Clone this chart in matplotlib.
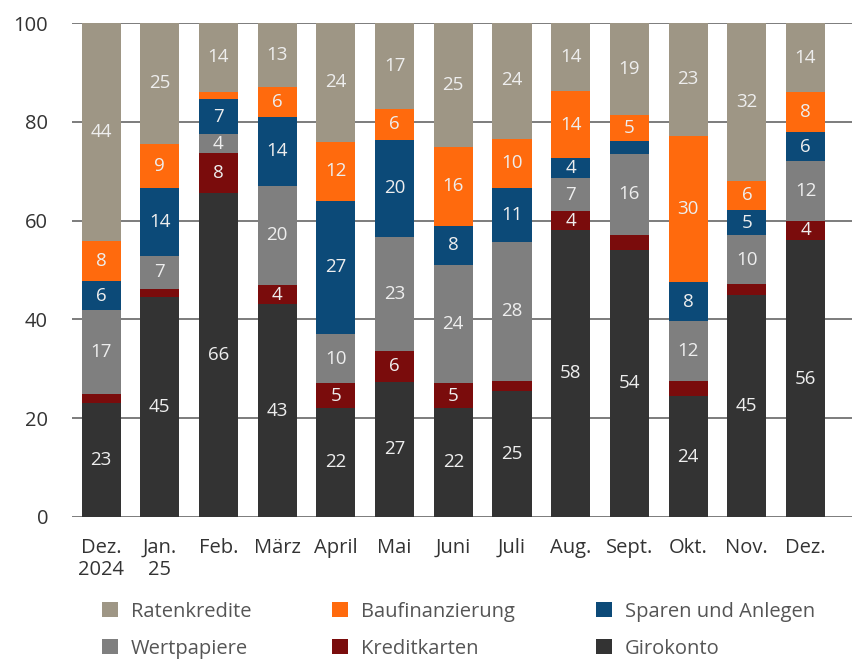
import matplotlib.pyplot as plt
import numpy as np

plt.rcParams['font.family'] = ['Open Sans', 'DejaVu Sans']

months = ['Dez.\n2024', 'Jan.\n25', 'Feb.', 'März', 'April', 'Mai', 'Juni',
          'Juli', 'Aug.', 'Sept.', 'Okt.', 'Nov.', 'Dez.']

# Anteile in Prozent, von unten nach oben gestapelt
girokonto = [23, 44.6, 65.5, 43, 22, 27.4, 22, 25.4, 58.1, 54, 24.4, 45, 56]
kreditkarten = [1.8, 1.6, 8.1, 4, 5, 6.1, 5, 2.2, 3.8, 3.1, 3.2, 2.1, 4]
wertpapiere = [17, 6.7, 3.9, 20, 10, 23.1, 24, 28, 6.7, 16.4, 12, 10, 12]
sparen = [6, 13.7, 7.1, 14, 27, 19.8, 8, 11, 4, 2.6, 8, 5, 6]
baufinanzierung = [8, 8.9, 1.5, 6, 12, 6.2, 16, 10, 13.6, 5.2, 29.6, 6, 8]
ratenkredite = [44.2, 24.6, 13.9, 13, 24, 17.4, 25, 23.6, 13.8, 18.7, 22.8, 31.9, 14]

series = [
    ('Girokonto', girokonto, '#333333'),
    ('Kreditkarten', kreditkarten, '#7a0c0c'),
    ('Wertpapiere', wertpapiere, '#7f7f7f'),
    ('Sparen und Anlegen', sparen, '#0c4a78'),
    ('Baufinanzierung', baufinanzierung, '#ff6a0d'),
    ('Ratenkredite', ratenkredite, '#9e9685'),
]

fig = plt.figure(figsize=(8.64, 6.6), dpi=100)
ax = fig.add_axes([0.083, 0.217, 0.903, 0.748])

x = np.arange(len(months))
bottom = np.zeros(len(months))
handles = {}
for name, vals, color in series:
    vals = np.array(vals)
    bars = ax.bar(x, vals, bottom=bottom, width=0.665, color=color, zorder=3)
    handles[name] = bars
    for xi, v, b in zip(x, vals, bottom):
        if v >= 3.5:
            ax.text(xi, b + v / 2, f'{v:.0f}', ha='center', va='center',
                    color='#eeeeee', fontsize=13.5, zorder=4)
    bottom += vals

ax.set_xlim(-0.5, 12.79)
ax.set_ylim(0, 100)
ax.set_yticks([0, 20, 40, 60, 80, 100])
ax.grid(axis='y', color='#666666', linewidth=1.2, zorder=0)
ax.set_axisbelow(True)
for s in ax.spines.values():
    s.set_visible(False)
ax.tick_params(length=0, labelsize=14.5, colors='#333333')
ax.tick_params(axis='y', pad=17)
ax.tick_params(axis='x', pad=15)
ax.set_xticks(x)
ax.set_xticklabels(months, linespacing=1.15)

order = ['Ratenkredite', 'Wertpapiere', 'Baufinanzierung', 'Kreditkarten',
         'Sparen und Anlegen', 'Girokonto']
leg = fig.legend([handles[n] for n in order], order, ncol=3,
                 loc='center left', bbox_to_anchor=(0.118, 0.045),
                 frameon=False, fontsize=14.5, handlelength=0.8,
                 handleheight=0.75, columnspacing=4.0, handletextpad=0.65,
                 labelspacing=0.85, borderpad=0, borderaxespad=0)
for t in leg.get_texts():
    t.set_color('#555555')

plt.savefig('out.png', dpi=100)
